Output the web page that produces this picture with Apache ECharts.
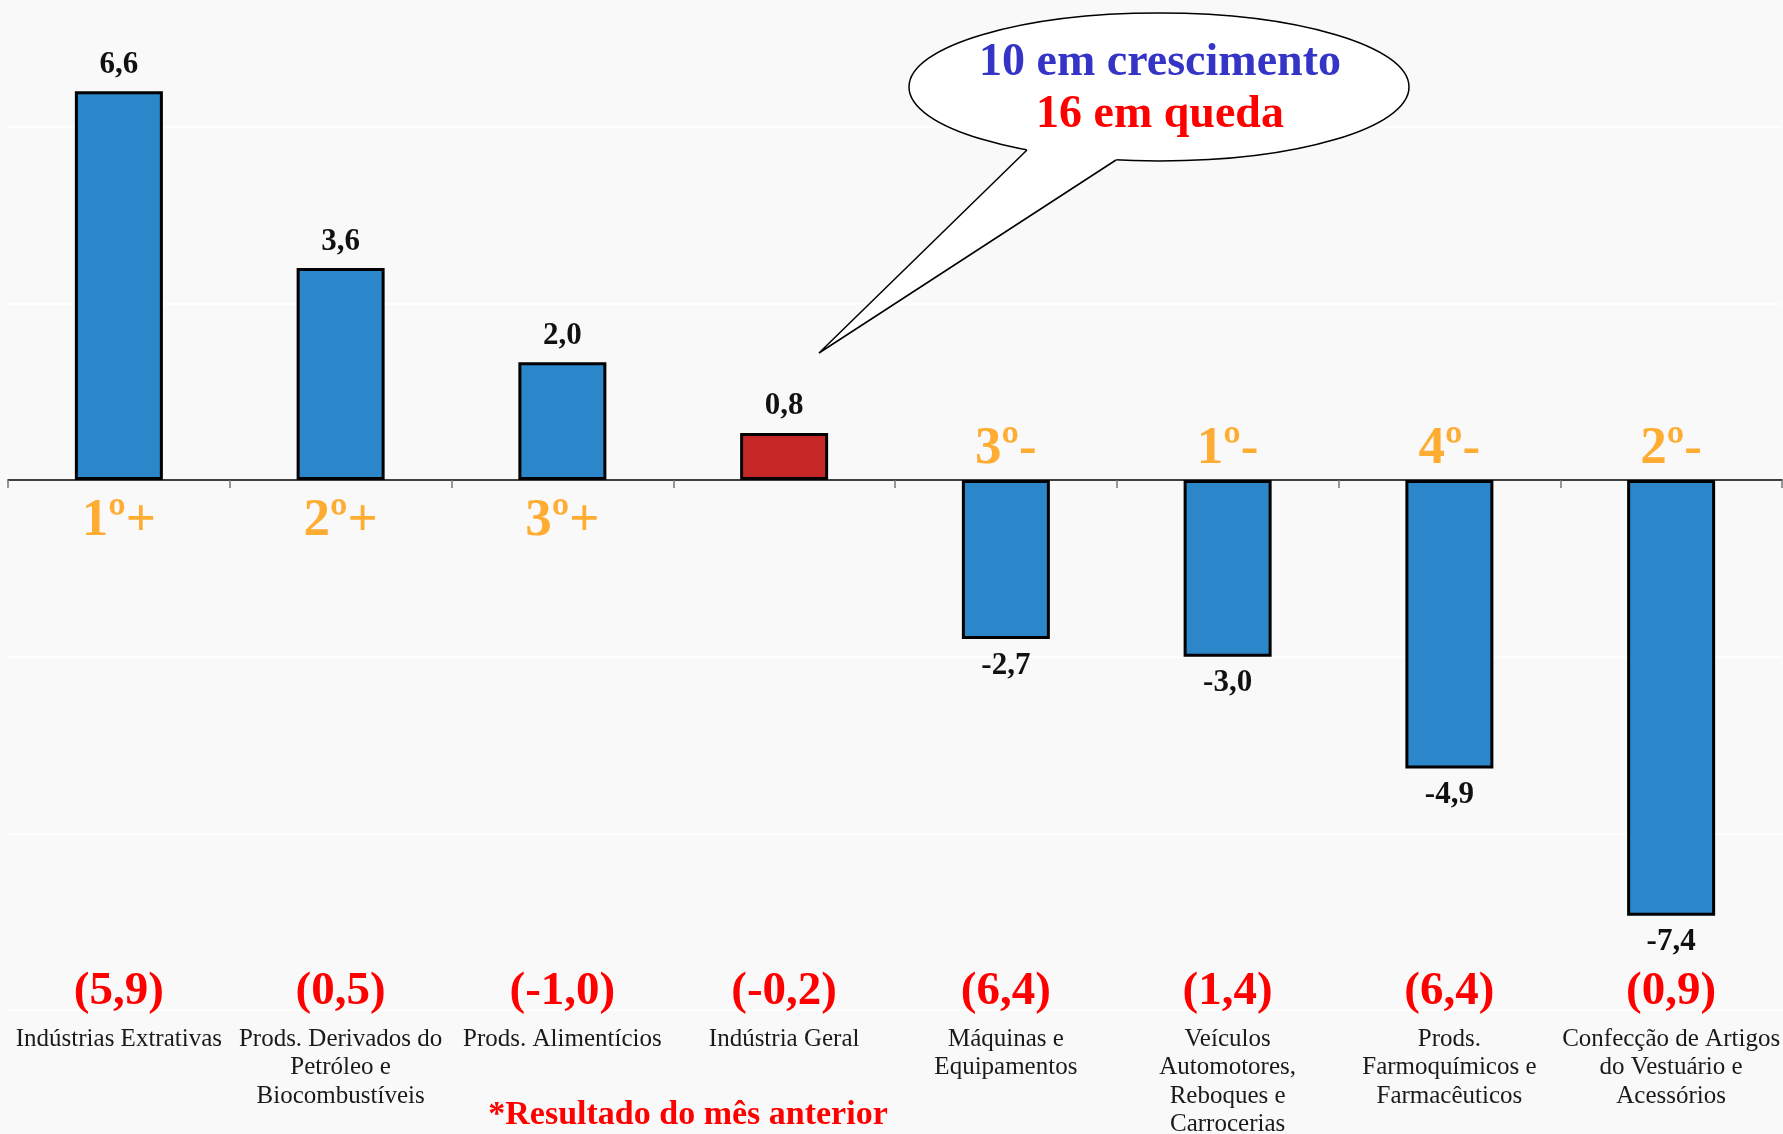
<!DOCTYPE html>
<html><head><meta charset="utf-8">
<script src="https://cdn.jsdelivr.net/npm/echarts@6/dist/echarts.min.js"></script>
<style>html,body{margin:0;padding:0;background:#f9f9f9}#c{width:1783px;height:1134px}</style>
</head><body><div id="c"></div>
<script>
const categories = ['Indústrias Extrativas','Prods. Derivados do Petróleo e Biocombustíveis','Prods. Alimentícios','Indústria Geral','Máquinas e Equipamentos','Veículos Automotores, Reboques e Carrocerias','Prods. Farmoquímicos e Farmacêuticos','Confecção de Artigos do Vestuário e Acessórios'];
const categoryLines = [['Indústrias Extrativas'],['Prods. Derivados do','Petróleo e','Biocombustíveis'],['Prods. Alimentícios'],['Indústria Geral'],['Máquinas e','Equipamentos'],['Veículos','Automotores,','Reboques e','Carrocerias'],['Prods.','Farmoquímicos e','Farmacêuticos'],['Confecção de Artigos','do Vestuário e','Acessórios']];
const values = [6.6, 3.6, 2.0, 0.8, -2.7, -3.0, -4.9, -7.4];
const previousMonth = [5.9, 0.5, -1.0, -0.2, 6.4, 1.4, 6.4, 0.9];
const ranks = ['1º+','2º+','3º+','','3º-','1º-','4º-','2º-'];
const highlightCategory = 'Indústria Geral';
const yTicks = { min: -9, max: 9, interval: 3 };
const calloutLines = ['10 em crescimento', '16 em queda'];
const footnote = '*Resultado do mês anterior';

const FONT = 'Liberation Serif';
const fmt = v => v.toFixed(1).replace('.', ',');
const chart = echarts.init(document.getElementById('c'));

const barData = values.map((v, i) => ({
  value: v,
  itemStyle: { color: categories[i] === highlightCategory ? '#C62828' : '#2B87C9' },
  label: { position: v >= 0 ? 'top' : 'bottom' }
}));
const rankData = values.map((v, i) => ({
  value: 0,
  label: { position: v >= 0 ? 'bottom' : 'top', distance: v >= 0 ? 14 : 4 }
}));

chart.setOption({
  backgroundColor: '#f9f9f9',
  animation: false,
  grid: { left: 8, right: 1, top: -50, height: 1060, containLabel: false, outerBoundsMode: 'none' },
  xAxis: {
    type: 'category',
    data: categories,
    axisLine: { onZero: true, lineStyle: { color: '#000', width: 1.5 } },
    axisTick: { show: true, interval: 0, length: 8, lineStyle: { color: '#777', width: 1.5 } },
    axisLabel: { show: false }
  },
  yAxis: {
    type: 'value', min: yTicks.min, max: yTicks.max, interval: yTicks.interval,
    axisLabel: { show: false }, axisLine: { show: false }, axisTick: { show: false },
    splitLine: { lineStyle: { color: '#ffffff', width: 1.5 } }
  },
  series: [
    {
      type: 'bar', data: barData, barWidth: 88,
      itemStyle: { borderColor: '#000', borderWidth: 3 },
      label: { show: true, distance: 11, fontFamily: FONT, fontWeight: 'bold', fontSize: 31, color: '#111',
        formatter: p => fmt(p.value) }
    },
    {
      type: 'scatter', data: rankData, symbolSize: 1, itemStyle: { color: 'rgba(0,0,0,0)' }, z: 5,
      label: { show: true, fontFamily: FONT, fontWeight: 'bold', fontSize: 53, color: '#FF9900',
        formatter: p => ranks[p.dataIndex] }
    }
  ]
});

// Category captions placed via the library's own category scale
const zeroY = chart.convertToPixel({ yAxisIndex: 0 }, 0);
const captionGraphics = categories.map((c, i) => ({
  type: 'text',
  x: chart.convertToPixel({ xAxisIndex: 0 }, c),
  y: zeroY + 479,
  z: 13,
  style: {
    text: '{p|(' + fmt(previousMonth[i]) + ')}\n' + categoryLines[i].map(s => '{n|' + s + '}').join('\n'),
    align: 'center', verticalAlign: 'top',
    rich: {
      p: { fontFamily: FONT, fontWeight: 'bold', fontSize: 47, fill: '#FF0000', color: '#FF0000', lineHeight: 66, align: 'center' },
      n: { fontFamily: FONT, fontSize: 25, fill: '#1a1a1a', color: '#1a1a1a', lineHeight: 28.5, align: 'center' }
    }
  }
}));

chart.setOption({
  graphic: [
    { type: 'ellipse', shape: { cx: 1159, cy: 87, rx: 250, ry: 74 }, style: { fill: '#fff', stroke: '#000', lineWidth: 1.5 }, z: 10 },
    { type: 'polygon', shape: { points: [[1022, 140], [1027, 150], [819, 353], [1116, 160], [1122, 150]] }, style: { fill: '#fff', stroke: null }, z: 11 },
    { type: 'polyline', shape: { points: [[1027, 150], [819, 353], [1116, 160]] }, style: { stroke: '#000', lineWidth: 1.5, fill: null }, z: 12 },
    { type: 'text', x: 1160, y: 63, style: { text: calloutLines[0], fontFamily: FONT, fontWeight: 'bold', fontSize: 46, fill: '#3434C6', align: 'center', verticalAlign: 'middle' }, z: 13 },
    { type: 'text', x: 1160, y: 115, style: { text: calloutLines[1], fontFamily: FONT, fontWeight: 'bold', fontSize: 46, fill: '#FF0000', align: 'center', verticalAlign: 'middle' }, z: 13 },
    { type: 'text', x: 688, y: 1115, style: { text: footnote, fontFamily: FONT, fontWeight: 'bold', fontSize: 34, fill: '#FF0000', align: 'center', verticalAlign: 'middle' }, z: 13 }
  ].concat(captionGraphics)
});
</script></body></html>
